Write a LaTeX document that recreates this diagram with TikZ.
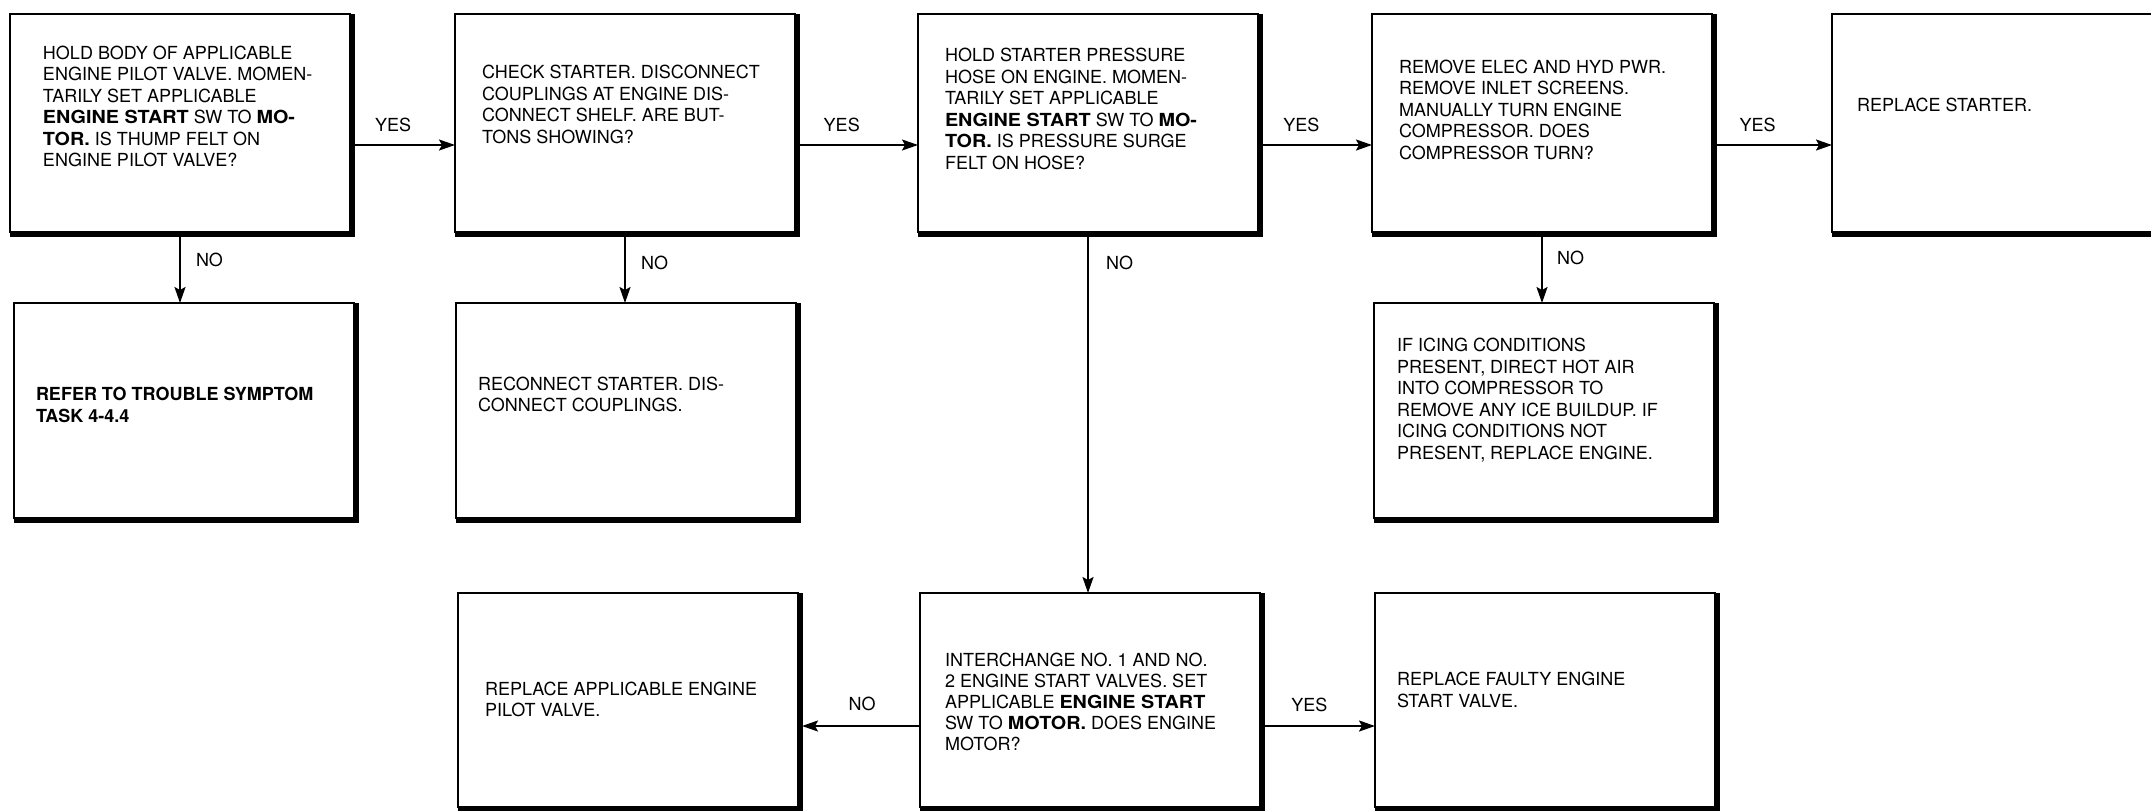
\documentclass[tikz,border=0pt]{standalone}
\usepackage{fontspec}
\setmainfont{TeX Gyre Heros}
\newfontfamily\widebold[FakeStretch=1.1]{TeX Gyre Heros}
\usetikzlibrary{arrows.meta}

% box text: [width]{height}{top gap}{left gap}{line pitch}{lines}
\newcommand\cardtext[6][170pt]{%
  \parbox[c][#2][t]{#1}{\vspace*{#3}\raggedright\leftskip=#4\relax
    \fontsize{9}{#5}\selectfont #6}}
\newcommand\bx[1]{{\widebold\bfseries #1}}
\newcommand\heavyedge[1]{%
  \draw[heavy] ([shift={(0.9pt,0pt)}]#1.north east)
    -- ([shift={(0.9pt,-0.9pt)}]#1.south east)
    -- ([shift={(0pt,-0.9pt)}]#1.south west);}

\begin{document}
\begin{tikzpicture}[x=0.5pt,y=-0.5pt,
  card/.style={draw, line width=1pt, inner sep=0pt, outer sep=0pt},
  heavy/.style={line width=2.8pt, line join=miter},
  arr/.style={line width=1pt, -{Stealth[length=8pt,width=5.5pt,inset=1.5pt]}},
  lbl/.style={font=\fontsize{9}{9}\selectfont, inner sep=0pt}]
\useasboundingbox (0,0) rectangle (2151,810);
\clip (0,0) rectangle (2151,810);

\coordinate (row1) at (0,145);
\coordinate (row3) at (0,726);

% top row
\node[card] (A) at (180,123) {\cardtext{109pt}{16pt}{16.5pt}{10.75pt}{%
  HOLD BODY OF APPLICABLE\\
  ENGINE PILOT VALVE. MOMEN-\\
  TARILY SET APPLICABLE\\
  \bx{ENGINE START} SW TO \bx{MO-}\\
  \bx{TOR.} IS THUMP FELT ON\\
  ENGINE PILOT VALVE?}};
\node[card] (B) at (625,123) {\cardtext{109pt}{25.75pt}{13.5pt}{10.75pt}{%
  CHECK STARTER. DISCONNECT\\
  COUPLINGS AT ENGINE DIS-\\
  CONNECT SHELF. ARE BUT-\\
  TONS SHOWING?}};
\node[card] (C) at (1088,123) {\cardtext{109pt}{17.25pt}{13.5pt}{10.75pt}{%
  HOLD STARTER PRESSURE\\
  HOSE ON ENGINE. MOMEN-\\
  TARILY SET APPLICABLE\\
  \bx{ENGINE START} SW TO \bx{MO-}\\
  \bx{TOR.} IS PRESSURE SURGE\\
  FELT ON HOSE?}};
\node[card] (D) at (1542,123) {\cardtext{109pt}{23pt}{13.5pt}{10.75pt}{%
  REMOVE ELEC AND HYD PWR.\\
  REMOVE INLET SCREENS.\\
  MANUALLY TURN ENGINE\\
  COMPRESSOR. DOES\\
  COMPRESSOR TURN?}};
\node[card] (E) at (2012,123) {\cardtext[180pt]{109pt}{42.25pt}{12.5pt}{10.75pt}{%
  REPLACE STARTER.}};

% middle row
\node[card] (F) at (184,410.5) {\cardtext{107.5pt}{42.25pt}{11pt}{11pt}{\bfseries
  REFER TO TROUBLE SYMPTOM\\
  TASK 4-4.4}};
\node[card] (G) at (626,410.5) {\cardtext{107.5pt}{37pt}{11pt}{10.5pt}{%
  RECONNECT STARTER. DIS-\\
  CONNECT COUPLINGS.}};
\node[card] (H) at (1544,410.5) {\cardtext{107.5pt}{17.75pt}{11.5pt}{10.75pt}{%
  IF ICING CONDITIONS\\
  PRESENT, DIRECT HOT AIR\\
  INTO COMPRESSOR TO\\
  REMOVE ANY ICE BUILDUP. IF\\
  ICING CONDITIONS NOT\\
  PRESENT, REPLACE ENGINE.}};

% bottom row
\node[card] (I) at (628,700) {\cardtext{107pt}{44.75pt}{13.5pt}{10.5pt}{%
  REPLACE APPLICABLE ENGINE\\
  PILOT VALVE.}};
\node[card] (J) at (1090,700) {\cardtext{107pt}{30.25pt}{12.5pt}{10.5pt}{%
  INTERCHANGE NO. 1 AND NO.\\
  2 ENGINE START VALVES. SET\\
  APPLICABLE \bx{ENGINE START}\\
  SW TO \bx{MOTOR.} DOES ENGINE\\
  MOTOR?}};
\node[card] (K) at (1545,700) {\cardtext{107pt}{39.75pt}{11pt}{11pt}{%
  REPLACE FAULTY ENGINE\\
  START VALVE.}};

% heavy right and bottom edges
\foreach \b in {A,B,C,D,F,G,H,I,J,K} {\heavyedge{\b}}
\draw[heavy] ([shift={(0pt,-0.9pt)}]E.south west) -- ([shift={(0pt,-0.9pt)}]E.south east);

% YES branches along the top row
\draw[arr] (A.east |- row1) -- node[lbl, pos=.41, above=6pt] (yA) {YES} (B.west |- row1);
\draw[arr] (B.east |- row1) -- node[lbl, pos=.38, above=6pt] (yB) {YES} (C.west |- row1);
\draw[arr] (C.east |- row1) -- node[lbl, pos=.38, above=6pt] (yC) {YES} (D.west |- row1);
\draw[arr] (D.east |- row1) -- node[lbl, pos=.38, above=6pt] (yD) {YES} (E.west |- row1);

% NO branches downward
\draw[arr] (A.south) -- node[lbl, pos=.39, right=7.5pt] (nA) {NO} (A.south |- F.north);
\draw[arr] (B.south) -- node[lbl, pos=.43, right=7.5pt] (nB) {NO} (B.south |- G.north);
\draw[arr] ([yshift=-2.5pt]C.south) -- node[lbl, pos=.073, right=8.5pt] (nC) {NO} (C.south |- J.north);
\draw[arr] (D.south) -- node[lbl, pos=.37, right=7pt] (nD) {NO} (D.south |- H.north);

% bottom row branches
\draw[arr, shorten >=2pt] (J.west |- row3) -- node[lbl, pos=.475, above=7pt] (nJ) {NO} (I.east |- row3);
\draw[arr] (J.east |- row3) -- node[lbl, pos=.43, above=6.5pt] (yJ) {YES} (K.west |- row3);
\end{tikzpicture}
\end{document}
